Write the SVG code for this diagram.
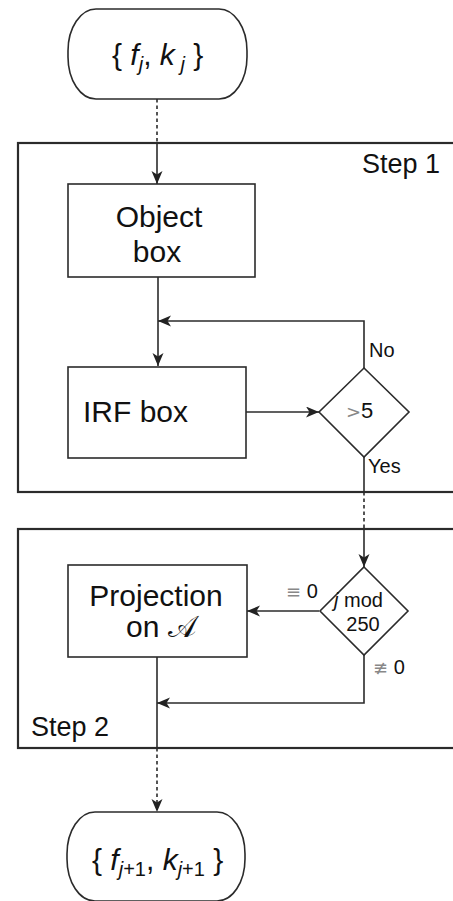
<svg xmlns="http://www.w3.org/2000/svg" width="453" height="901" viewBox="0 0 453 901">
<defs>
<style>
.ln{fill:none;stroke:#2b2b2b;stroke-width:1.6}
.fr{fill:none;stroke:#2b2b2b;stroke-width:2.2}
.dot{fill:none;stroke:#2b2b2b;stroke-width:1.6;stroke-dasharray:3.5,3}
.bx{fill:#fff;stroke:#2b2b2b;stroke-width:1.6}
text{font-family:"Liberation Sans",Arial,Helvetica,sans-serif;fill:#111}
.big{font-size:30px}
.step{font-size:27px}
.lab{font-size:20px}
.gr{fill:#888;font-family:"DejaVu Sans",sans-serif;font-size:18px}
.it{font-style:italic}
</style>
<marker id="ah" markerUnits="userSpaceOnUse" markerWidth="14" markerHeight="12" refX="13" refY="5.5" orient="auto">
<path d="M0,0 L13,5.5 L0,11 L3.5,5.5 z" fill="#222"/>
</marker>
</defs>
<rect width="453" height="901" fill="#fff"/>

<g id="step1">
<rect class="fr" x="18" y="143" width="460" height="349"/>
<text class="step" x="362" y="173">Step 1</text>
</g>
<g id="step2">
<rect class="fr" x="18" y="529" width="460" height="219"/>
<text class="step" x="31" y="736">Step 2</text>
</g>

<g id="connectors">
<path class="dot" d="M157,99 V143"/>
<path class="ln" d="M157,143 V184" marker-end="url(#ah)"/>
<path class="ln" d="M158,277 V366" marker-end="url(#ah)"/>
<path class="ln" d="M364,368 V321 H158" marker-end="url(#ah)"/>
<path class="ln" d="M246,412 H319" marker-end="url(#ah)"/>
<path class="ln" d="M364,457 V492"/>
<path class="dot" d="M364,492 V529"/>
<path class="ln" d="M364,529 V567" marker-end="url(#ah)"/>
<path class="ln" d="M319,611 H247" marker-end="url(#ah)"/>
<path class="ln" d="M364,655 V703 H157" marker-end="url(#ah)"/>
<path class="ln" d="M157,657 V748"/>
<path class="dot" d="M157,748 V812" marker-end="url(#ah)"/>
</g>

<g id="start">
<rect class="bx" x="68" y="9" width="179" height="90" rx="28" ry="42"/>
<text class="big" x="112" y="65">{ <tspan class="it">f</tspan><tspan class="it" font-size="20" dy="6">j</tspan><tspan dy="-6">, </tspan><tspan class="it">k</tspan><tspan class="it" font-size="20" dy="6"> j</tspan><tspan dy="-6"> }</tspan></text>
</g>

<g id="object">
<rect class="bx" x="68" y="184" width="187" height="93"/>
<text class="big" x="159" y="227" text-anchor="middle">Object</text>
<text class="big" x="157" y="262" text-anchor="middle">box</text>
</g>

<g id="irf">
<rect class="bx" x="68" y="367" width="178" height="91"/>
<text class="big" x="83" y="422">IRF box</text>
</g>

<g id="cond1">
<path class="bx" d="M364,368 L409,412 L364,457 L319,412 Z"/>
<text class="lab" x="346" y="418"><tspan class="gr">&gt;</tspan><tspan font-size="22">5</tspan></text>
<text class="lab" x="369" y="357">No</text>
<text class="lab" x="368" y="473">Yes</text>
</g>

<g id="cond2">
<path class="bx" d="M364,567 L408,611 L364,655 L320,611 Z"/>
<text class="lab" x="334" y="607" font-size="21"><tspan class="it">j</tspan> mod</text>
<text class="lab" x="363" y="631" text-anchor="middle" font-size="21">250</text>
<text class="lab" x="286" y="598" font-size="21"><tspan class="gr">≡</tspan> 0</text>
<text class="lab" x="373" y="674" font-size="21"><tspan class="gr">≢</tspan> 0</text>
</g>

<g id="projection">
<rect class="bx" x="68" y="565" width="179" height="92"/>
<text class="big" x="156" y="606" text-anchor="middle">Projection</text>
<text class="big" x="126" y="637">on <tspan font-family="'DejaVu Sans','Noto Sans',serif">𝒜</tspan></text>
</g>

<g id="end">
<rect class="bx" x="67" y="812" width="178" height="89" rx="28" ry="42"/>
<text class="big" x="92" y="870">{ <tspan class="it">f</tspan><tspan font-size="20" dy="6"><tspan class="it">j</tspan>+1</tspan><tspan dy="-6">, </tspan><tspan class="it">k</tspan><tspan font-size="20" dy="6"><tspan class="it">j</tspan>+1</tspan><tspan dy="-6"> }</tspan></text>
</g>
</svg>
